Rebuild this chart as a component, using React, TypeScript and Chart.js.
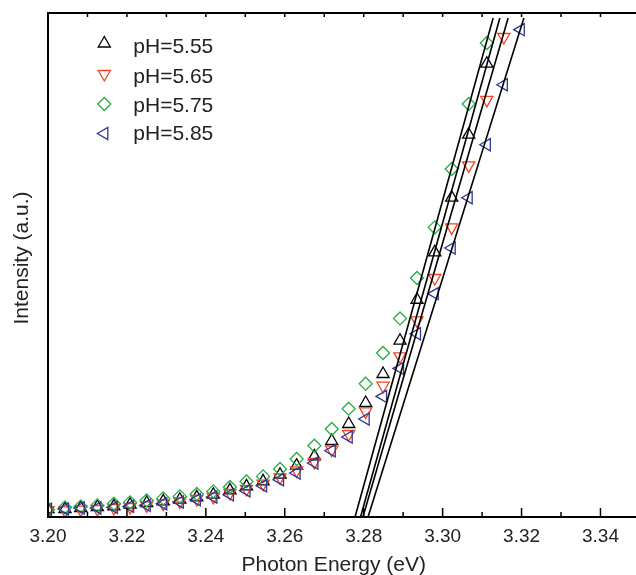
import React, { useEffect, useRef } from 'react';
import { Chart, registerables } from 'chart.js';

Chart.register(...registerables);

// Photon energy grid (eV)
const energy = [
  3.2000, 3.2043, 3.2083, 3.2125, 3.2167, 3.2208, 3.2250, 3.2292, 3.2334, 3.2377,
  3.2419, 3.2461, 3.2503, 3.2545, 3.2588, 3.2630, 3.2675, 3.2719, 3.2762, 3.2805,
  3.2849, 3.2892, 3.2935, 3.2980, 3.3023, 3.3066, 3.3112, 3.3155, 3.3198,
];

// Intensity (a.u.) per series
const ph555 = [
  1.55, 1.59, 1.79, 1.98, 2.10, 2.44, 2.78, 3.10, 3.43, 3.89,
  4.42, 5.28, 6.07, 7.06, 8.39, 10.18, 12.04, 15.08, 18.45, 22.62,
  28.37, 34.98, 43.11, 52.50, 63.35, 75.85, 89.94,
];
const ph565 = [
  1.35, 1.31, 1.45, 1.59, 1.79, 1.98, 2.30, 2.64, 3.10, 3.57,
  3.97, 4.76, 5.56, 6.61, 7.86, 9.25, 10.91, 13.35, 16.47, 20.95,
  26.05, 31.87, 39.01, 47.42, 57.46, 69.76, 82.76, 95.24,
];
const ph575 = [
  1.45, 1.90, 2.10, 2.30, 2.64, 2.90, 3.29, 3.69, 4.09, 4.56,
  5.08, 5.95, 7.06, 8.06, 9.52, 11.51, 14.15, 17.46, 21.49, 26.45,
  32.54, 39.40, 47.42, 57.46, 69.05, 81.94, 94.05,
];
const ph585 = [
  1.55, 1.59, 1.79, 1.79, 1.90, 2.10, 2.30, 2.64, 2.98, 3.43,
  3.97, 4.42, 5.22, 6.21, 7.40, 8.73, 10.71, 13.15, 15.87, 19.44,
  23.93, 29.48, 36.37, 44.31, 53.37, 63.35, 73.87, 85.77, 96.69,
];

const seriesLabels = ['pH=5.55', 'pH=5.65', 'pH=5.75', 'pH=5.85'];
const seriesColors = ['#000000', '#F4431E', '#27AE45', '#2B3796'];
const seriesStyles = ['triangle', 'triangle', 'rectRot', 'triangle'];
const seriesRotation = [0, 180, 0, 270];

// Linear fits (x at bottom, x at top), same order as series
const fitStartX = [3.2792, 3.2798, 3.2778, 3.2811];
const fitEndX = [3.3145, 3.3166, 3.3128, 3.3206];
const fitY = [0, 99];

const xMajorTicks = [3.20, 3.22, 3.24, 3.26, 3.28, 3.30, 3.32, 3.34];
const xMinorTicks = [3.21, 3.23, 3.25, 3.27, 3.29, 3.31, 3.33];

const FONT = '"Liberation Sans", Arial, Helvetica, sans-serif';

function drawMarker(ctx: CanvasRenderingContext2D, style: string, rotation: number, x: number, y: number, r: number) {
  ctx.beginPath();
  if (style === 'rectRot') {
    ctx.moveTo(x - r, y);
    ctx.lineTo(x, y - r);
    ctx.lineTo(x + r, y);
    ctx.lineTo(x, y + r);
  } else {
    let rad = (rotation * Math.PI) / 180;
    for (let i = 0; i < 3; i++) {
      const px = x + Math.sin(rad) * r;
      const py = y - Math.cos(rad) * r;
      if (i === 0) ctx.moveTo(px, py);
      else ctx.lineTo(px, py);
      rad += (2 * Math.PI) / 3;
    }
  }
  ctx.closePath();
  ctx.stroke();
}

const framePlugin = {
  id: 'frame',
  afterDraw(chart: any) {
    const ctx: CanvasRenderingContext2D = chart.ctx;
    const { left, right, top, bottom } = chart.chartArea;
    const xs = chart.scales.x;
    ctx.save();
    ctx.strokeStyle = '#000';
    ctx.lineWidth = 2;
    ctx.beginPath();
    ctx.moveTo(left - 1, top);
    ctx.lineTo(right, top);
    ctx.moveTo(left, top);
    ctx.lineTo(left, bottom);
    ctx.moveTo(left - 1, bottom);
    ctx.lineTo(right, bottom);
    ctx.stroke();

    ctx.lineWidth = 1.5;
    ctx.beginPath();
    xMajorTicks.forEach((v) => {
      const x = xs.getPixelForValue(v);
      ctx.moveTo(x, bottom);
      ctx.lineTo(x, bottom - 9);
      ctx.moveTo(x, top);
      ctx.lineTo(x, top + 4);
    });
    xMinorTicks.forEach((v) => {
      const x = xs.getPixelForValue(v);
      ctx.moveTo(x, bottom);
      ctx.lineTo(x, bottom - 5);
      ctx.moveTo(x, top);
      ctx.lineTo(x, top + 4);
    });
    ctx.stroke();

    // legend
    const legendRows = [43.5, 74, 104, 133.5];
    const textBase = [53.3, 82.7, 111.7, 140.3];
    ctx.lineWidth = 1.3;
    seriesLabels.forEach((lab, i) => {
      ctx.strokeStyle = seriesColors[i];
      drawMarker(ctx, seriesStyles[i], seriesRotation[i], 104.3, legendRows[i], seriesStyles[i] === 'rectRot' ? 6.5 : 7);
      ctx.fillStyle = '#222';
      ctx.font = `21px ${FONT}`;
      ctx.textAlign = 'left';
      ctx.textBaseline = 'alphabetic';
      ctx.fillText(lab, 133.3, textBase[i]);
    });

    // axis titles
    ctx.fillStyle = '#222';
    ctx.font = `21px ${FONT}`;
    ctx.textAlign = 'center';
    ctx.textBaseline = 'alphabetic';
    ctx.fillText('Photon Energy (eV)', 333.7, 570.5);
    ctx.save();
    ctx.translate(27.5, 258);
    ctx.rotate(-Math.PI / 2);
    ctx.fillText('Intensity (a.u.)', 0, 0);
    ctx.restore();
    ctx.restore();
  },
};

export default function App() {
  const canvasRef = useRef<HTMLCanvasElement | null>(null);

  useEffect(() => {
    document.body.style.margin = '0';
    const canvas = canvasRef.current;
    if (!canvas) return;
    const seriesData = [ph555, ph565, ph575, ph585];
    const scatterOrder = [4, 3, 2, 1];
    const datasets: any[] = [];
    seriesData.forEach((vals, i) => {
      datasets.push({
        type: 'scatter',
        label: seriesLabels[i],
        data: vals.map((v, k) => ({ x: energy[k], y: v })),
        showLine: false,
        pointStyle: seriesStyles[i],
        rotation: seriesRotation[i],
        pointRadius: seriesStyles[i] === 'rectRot' ? 6.5 : 7,
        pointBorderWidth: 1.3,
        pointBorderColor: seriesColors[i],
        pointBackgroundColor: 'rgba(0,0,0,0)',
        borderColor: seriesColors[i],
        backgroundColor: 'rgba(0,0,0,0)',
        clip: 0,
        order: scatterOrder[i],
      });
    });
    seriesData.forEach((_, i) => {
      datasets.push({
        type: 'line',
        label: 'fit ' + seriesLabels[i],
        data: [
          { x: fitStartX[i], y: fitY[0] },
          { x: fitEndX[i], y: fitY[1] },
        ],
        borderColor: '#000',
        borderWidth: 1.6,
        pointRadius: 0,
        fill: false,
        tension: 0,
        clip: false,
        order: 0,
      });
    });

    const chart = new Chart(canvas, {
      type: 'scatter',
      data: { datasets },
      options: {
        animation: false,
        responsive: false,
        devicePixelRatio: 1,
        layout: { autoPadding: false, padding: { left: 48, top: 13, right: 0, bottom: 0 } },
        plugins: { legend: { display: false }, tooltip: { enabled: false } },
        scales: {
          x: {
            type: 'linear',
            min: 3.2,
            max: 3.349,
            grid: { display: false, drawTicks: false },
            border: { display: false },
            afterBuildTicks: (scale: any) => {
              scale.ticks = xMajorTicks.map((v) => ({ value: v }));
            },
            afterFit: (scale: any) => {
              scale.height = 58;
              scale.paddingLeft = 0;
              scale.paddingRight = 0;
            },
            ticks: {
              autoSkip: false,
              maxRotation: 0,
              padding: 8,
              color: '#222',
              font: { size: 19, family: FONT },
              callback: (v: any) => Number(v).toFixed(2),
            },
          },
          y: {
            type: 'linear',
            display: false,
            min: 0,
            max: 100,
          },
        },
      },
      plugins: [framePlugin],
    });
    return () => chart.destroy();
  }, []);

  return (
    <div style={{ position: 'absolute', left: 0, top: 0, width: 636, height: 575, background: '#fff' }}>
      <canvas ref={canvasRef} width={636} height={575} style={{ width: 636, height: 575, display: 'block' }} />
    </div>
  );
}
